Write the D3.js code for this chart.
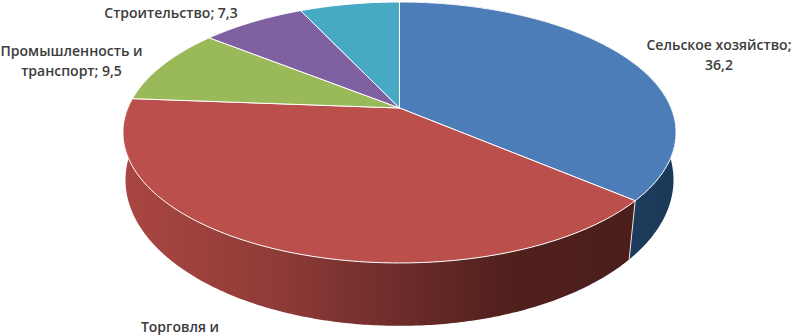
<!DOCTYPE html>
<html>
<head>
<meta charset="utf-8">
<script src="https://cdn.jsdelivr.net/npm/d3@7"></script>
<style>
html,body{margin:0;padding:0;background:#fff;overflow:hidden}
svg{display:block}
text{font-family:"Open Sans",sans-serif;font-weight:600;fill:#3c3c3c;text-anchor:middle}
</style>
</head>
<body>
<div id="chart"></div>
<script>
// values (first two slices + the unlabelled one are estimates)
var categories = ["Сельское хозяйство", "Торговля и", "Промышленность и транспорт", "Строительство", "Прочее"];
var values = [36.2, 40.0, 9.5, 7.3, 7.0];
var colors = ["#4c7db9", "#bb4f4c", "#9ab958", "#7f60a0", "#47a9c4"];

var label_lines = [
	["Сельское хозяйство;", "36,2"],
	["Торговля и"],
	["Промышленность и", "транспорт; 9,5"],
	["Строительство; 7,3"],
	[]
];
var label_pos = [[719, 50], [180, 332], [71.5, 56], [171, 18], null];

var width = 796, height = 336;

var svg = d3.select("#chart").append("svg")
	.attr("width", width)
	.attr("height", height);

// the disc is a circle seen in perspective, so the apex is not the ellipse centre
function project(angle, ring){
	var u = Math.sin(angle), v = -Math.cos(angle);
	var d = 1 + ring.c * v;
	return [399.5 + ring.k * u / d, (ring.a * v + ring.b) / d];
}
var top_ring = {k: 271.6, a: 105.6, b: 108, c: -0.1877};
var bottom_ring = {k: 270.6, a: 117.7, b: 157, c: -0.157};

var pie = d3.pie().sort(null).value(function(d){ return d; });
var arcs = pie(values);
var line = d3.line();

function ring_points(a0, a1, ring){
	var n = Math.ceil((a1 - a0) / 0.01);
	return d3.range(n + 1).map(function(i){
		return project(a0 + (a1 - a0) * i / n, ring);
	});
}

function gradient(id, stops){
	var g = svg.append("defs").append("linearGradient")
		.attr("id", id)
		.attr("gradientUnits", "userSpaceOnUse")
		.attr("x1", 123).attr("x2", 676)
		.attr("y1", 0).attr("y2", 0);
	stops.forEach(function(s){
		g.append("stop").attr("offset", s[0]).attr("stop-color", s[1]);
	});
}
gradient("wall0", [[0.8, "#1f3c5c"], [1, "#1b3a5a"]]);
gradient("wall1", [[0, "#ab4642"], [0.3, "#8c3a36"], [0.5, "#6d2c2a"], [0.7, "#50201d"], [1, "#4a1e1b"]]);

// side wall, only the two front slices show it
[0, 1].forEach(function(i){
	var a = arcs[i];
	var upper = ring_points(a.startAngle, a.endAngle, top_ring);
	var lower = ring_points(a.startAngle, a.endAngle, bottom_ring).reverse();
	svg.append("path")
		.attr("d", line(upper.concat(lower)) + "Z")
		.attr("fill", "url(#wall" + i + ")");
});

// white seam between the blue and red walls
var seam = arcs[0].endAngle;
svg.append("path")
	.attr("d", line([project(seam, top_ring), project(seam, bottom_ring)]))
	.attr("stroke", "#e8e4e4")
	.attr("stroke-width", 1)
	.attr("fill", "none");

// top face
svg.selectAll("path.slice")
	.data(arcs)
	.enter().append("path")
	.attr("class", "slice")
	.attr("d", function(d){
		var pts = ring_points(d.startAngle, d.endAngle, top_ring);
		return line([[399.5, top_ring.b]].concat(pts)) + "Z";
	})
	.attr("fill", function(d, i){ return colors[i]; })
	.attr("stroke", "#fff")
	.attr("stroke-width", 1)
	.attr("stroke-linejoin", "round");

// labels
label_lines.forEach(function(lines, i){
	if(!lines.length) return;
	lines.forEach(function(txt, j){
		svg.append("text")
			.attr("x", label_pos[i][0])
			.attr("y", label_pos[i][1] + j * 20)
			.attr("font-size", 14)
			.text(txt);
	});
});
</script>
</body>
</html>
